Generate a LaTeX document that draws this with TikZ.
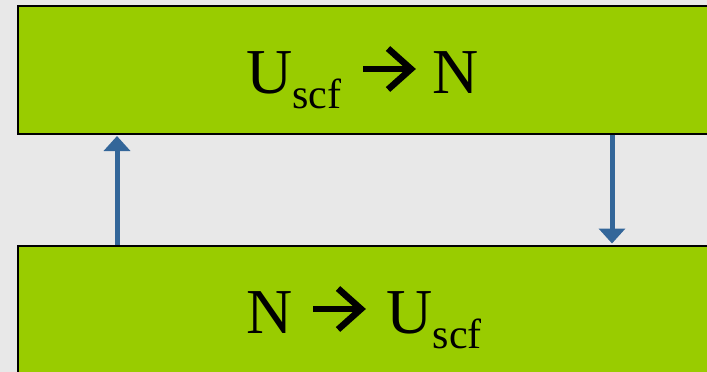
\documentclass[tikz,border=0pt]{standalone}
\usepackage{fontspec}
\setmainfont{Liberation Serif}
\usetikzlibrary{arrows.meta}
\definecolor{bggray}{HTML}{E8E8E8}
\definecolor{boxgreen}{HTML}{99CC00}
\definecolor{arrowblue}{HTML}{336699}
\tikzset{
  greenbox/.style={draw=black, line width=1.5pt, fill=boxgreen, inner sep=0pt, anchor=north west},
  bigtext/.style={inner sep=0pt, font=\fontsize{64}{64}\selectfont, text=black, anchor=base west},
  flowarrow/.style={draw=arrowblue, line width=5pt, shorten >=1.5pt, -{Triangle[width=26pt,length=15pt]}},
  glyph/.style={line width=6.5pt, draw=black, miter limit=10},
}
\newcommand{\subtxt}[1]{\raisebox{-15pt}{\fontsize{42}{42}\selectfont #1}}
\begin{document}
\begin{tikzpicture}[x=1pt,y=-1pt]
\useasboundingbox (0,0) rectangle (707,372);
\clip (0,0) rectangle (707,372);
\fill[bggray] (0,0) rectangle (707,372);
% boxes
\node[greenbox, minimum width=713pt, minimum height=128pt] (topbox) at (17,5) {};
\node[greenbox, minimum width=713pt, minimum height=130pt] (botbox) at (17,245) {};
% connectors
\coordinate (upx) at (117,0);
\coordinate (downx) at (612,0);
\draw[flowarrow] (botbox.north -| upx) -- (topbox.south -| upx);
\draw[flowarrow] (topbox.south -| downx) -- (botbox.north -| downx);
% top label
\node[bigtext] (topU) at (246,93) {U\subtxt{scf}};
\node[bigtext] (topN) at (432.5,93) {N};
\draw[glyph] (363,69) -- (410,69);
\draw[glyph] (388,48.5) -- (411,69) -- (388,89.5);
% bottom label
\node[bigtext] (botN) at (246.5,333) {N};
\node[bigtext] (botU) at (386.5,333) {U\subtxt{scf}};
\draw[glyph] (313,309) -- (360,309);
\draw[glyph] (338,288.5) -- (361,309) -- (338,329.5);
\end{tikzpicture}
\end{document}
